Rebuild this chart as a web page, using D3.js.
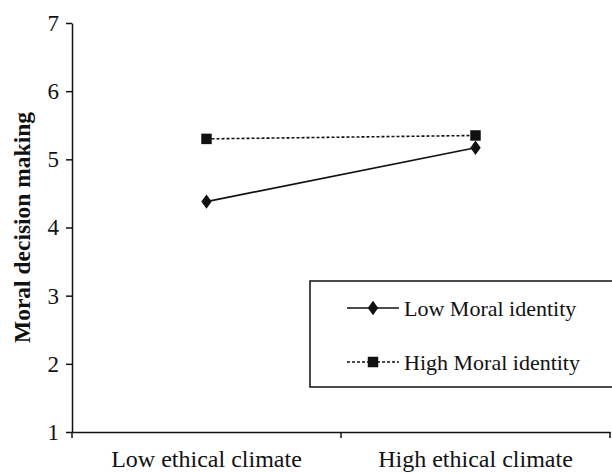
<!DOCTYPE html>
<html><head><meta charset="utf-8">
<script src="https://cdn.jsdelivr.net/npm/d3@7"></script>
<style>html,body{margin:0;padding:0;background:#fff;}svg{display:block;}</style>
</head><body>
<svg id="chart" width="612" height="473"></svg>
<script>
const categories = ["Low ethical climate", "High ethical climate"];
const seriesNames = ["Low Moral identity", "High Moral identity"];
const lowMoralIdentity = [4.38, 5.17];
const highMoralIdentity = [5.30, 5.35];
const yTicks = [1, 2, 3, 4, 5, 6, 7];
const yTitle = "Moral decision making";

const svg = d3.select("#chart");
const font = "'Liberation Serif', 'Times New Roman', serif";
const ink = "#111";

const y = d3.scaleLinear().domain([1, 7]).range([432, 23]);
const xBand = d3.scaleBand().domain(categories).range([72, 610]);
const xPt = c => xBand(c) + xBand.bandwidth() / 2;

// Y axis
const yAx = svg.append("g").attr("transform", "translate(72,0)")
  .call(d3.axisLeft(y).tickValues(yTicks).tickFormat(d3.format("d")).tickSize(6).tickSizeOuter(0).tickPadding(7));
yAx.select(".domain").attr("stroke", ink).attr("stroke-width", 1.5);
yAx.selectAll(".tick line").attr("stroke", ink).attr("stroke-width", 1.5);
yAx.selectAll(".tick text").attr("font-family", font).attr("font-size", 23).attr("fill", ink);

// X axis
const xAx = svg.append("g").attr("transform", "translate(0,432)")
  .call(d3.axisBottom(xBand).tickSize(0).tickSizeOuter(0).tickPadding(18));
xAx.select(".domain").attr("stroke", ink).attr("stroke-width", 1.5);
xAx.selectAll(".tick text").attr("font-family", font).attr("font-size", 24).attr("fill", ink);
const bounds = categories.map(c => xBand(c)).concat([xBand(categories[categories.length-1]) + xBand.bandwidth()]);
xAx.selectAll(".bnd").data(bounds).enter().append("line")
  .attr("x1", d => d).attr("x2", d => d).attr("y1", 0).attr("y2", 6)
  .attr("stroke", ink).attr("stroke-width", 1.5);

// Y title
svg.append("text")
  .attr("transform", "translate(30," + ((y(1) + y(7)) / 2 + 0) + ") rotate(-90)")
  .attr("text-anchor", "middle")
  .attr("font-family", font).attr("font-size", 23.5).attr("font-weight", "bold").attr("fill", ink)
  .text(yTitle);

// Lines
const line = d3.line().x((d, i) => xPt(categories[i])).y(d => y(d));
svg.append("path").datum(lowMoralIdentity).attr("d", line)
  .attr("fill", "none").attr("stroke", ink).attr("stroke-width", 1.6);
svg.append("path").datum(highMoralIdentity).attr("d", line)
  .attr("fill", "none").attr("stroke", ink).attr("stroke-width", 1.6).attr("stroke-dasharray", "3,2");

const diamond = d3.symbol().type(d3.symbolDiamond).size(60);
const square = d3.symbol().type(d3.symbolSquare).size(110);

svg.selectAll(".dm").data(lowMoralIdentity).enter().append("path")
  .attr("d", diamond).attr("transform", (d, i) => "translate(" + xPt(categories[i]) + "," + y(d) + ") scale(1.25,1)")
  .attr("fill", ink);
svg.selectAll(".sq").data(highMoralIdentity).enter().append("path")
  .attr("d", square).attr("transform", (d, i) => "translate(" + xPt(categories[i]) + "," + y(d) + ")")
  .attr("fill", ink);

// Legend
const lg = svg.append("g");
lg.append("rect").attr("x", 310).attr("y", 281).attr("width", 320).attr("height", 106)
  .attr("fill", "#fff").attr("stroke", ink).attr("stroke-width", 1.5);
const legendRows = [
  { name: seriesNames[0], dash: null, sym: "diamond" },
  { name: seriesNames[1], dash: "3,2", sym: "square" }
];
const lgY = d3.scalePoint().domain(seriesNames).range([308, 362]);
legendRows.forEach(r => {
  const yy = lgY(r.name);
  lg.append("line").attr("x1", 347).attr("x2", 399).attr("y1", yy).attr("y2", yy)
    .attr("stroke", ink).attr("stroke-width", 1.6).attr("stroke-dasharray", r.dash);
  if (r.sym === "diamond") {
    lg.append("path").attr("d", diamond).attr("transform", "translate(373," + yy + ") scale(1.25,1)").attr("fill", ink);
  } else {
    lg.append("path").attr("d", square).attr("transform", "translate(373," + yy + ")").attr("fill", ink);
  }
  lg.append("text").attr("x", 404).attr("y", yy).attr("dy", "0.35em")
    .attr("font-family", font).attr("font-size", 22).attr("fill", ink).text(r.name);
});
</script>
</body></html>
